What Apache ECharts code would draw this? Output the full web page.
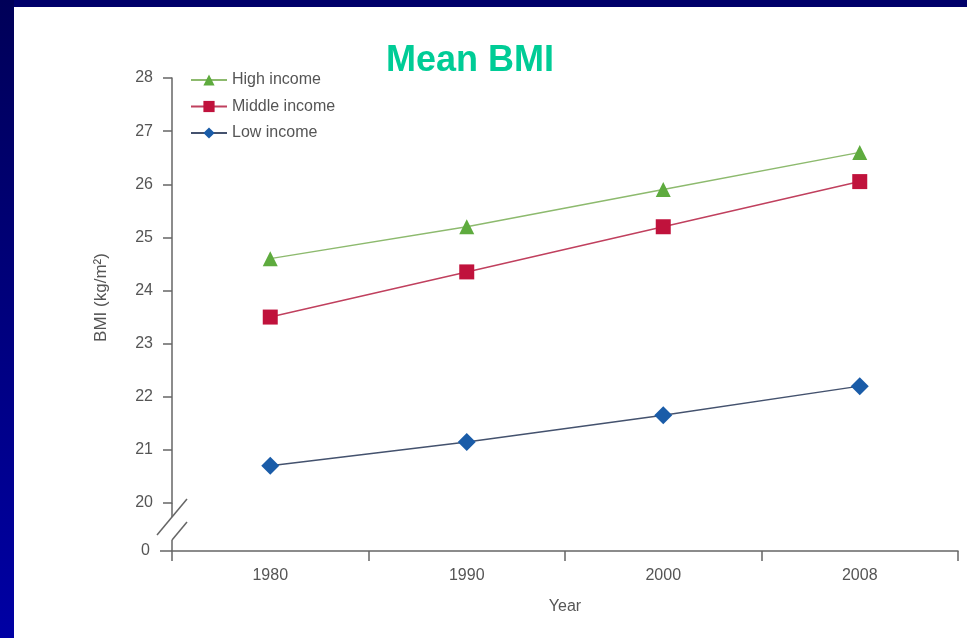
<!DOCTYPE html>
<html>
<head>
<meta charset="utf-8">
<script src="https://cdn.jsdelivr.net/npm/echarts@6/dist/echarts.min.js"></script>
<style>
  html, body { margin: 0; padding: 0; background: #fff; }
  #main { width: 967px; height: 638px; }
</style>
</head>
<body>
<div id="main"></div>
<script>
// Mean BMI by country income group
const years = ['1980', '1990', '2000', '2008'];
const highIncome = [24.6, 25.2, 25.9, 26.6];
const middleIncome = [23.5, 24.35, 25.2, 26.05];
const lowIncome = [20.7, 21.15, 21.65, 22.2];
const seriesNames = ['High income', 'Middle income', 'Low income'];
const yMin = 20, yMax = 28, yStep = 1;

// plot frame (pixels)
const L = 172, R = 958, TOP = 78, BREAK_Y = 503, BASE_Y = 551;
const axisColor = '#666';
const labelColor = '#555';
const font = 'Liberation Sans, Arial, sans-serif';

const chart = echarts.init(document.getElementById('main'));

chart.setOption({
  backgroundColor: '#fff',
  animation: false,
  title: {
    text: 'Mean BMI',
    left: 381, top: 38,
    textStyle: { color: '#00cc96', fontSize: 36, fontWeight: 'bold', fontFamily: font }
  },
  legend: {
    orient: 'vertical',
    left: 185, top: 67,
    itemWidth: 36, itemHeight: 14, itemGap: 10.5,
    data: seriesNames,
    textStyle: { color: labelColor, fontSize: 16, fontFamily: font }
  },
  grid: [
    { left: L, top: TOP, width: R - L, height: BREAK_Y - TOP },
    { left: L, top: BREAK_Y, width: R - L, height: BASE_Y - BREAK_Y }
  ],
  xAxis: [
    { type: 'category', gridIndex: 0, data: years, boundaryGap: true, show: false },
    {
      type: 'category', gridIndex: 1, data: years, boundaryGap: true,
      name: 'Year', nameLocation: 'middle', nameGap: 48,
      nameTextStyle: { color: labelColor, fontSize: 16, fontFamily: font },
      axisLine: { show: true, lineStyle: { color: axisColor, width: 1.5 } },
      axisTick: { show: true, alignWithLabel: false, interval: 0, length: 10,
                  lineStyle: { color: axisColor, width: 1.5 } },
      axisLabel: { color: labelColor, fontSize: 16, fontFamily: font, margin: 17 }
    }
  ],
  yAxis: [
    {
      type: 'value', gridIndex: 0, min: yMin, max: yMax, interval: yStep,
      name: 'BMI (kg/m²)', nameLocation: 'middle', nameGap: 62,
      nameTextStyle: { color: labelColor, fontSize: 17, fontFamily: font, padding: [0, 14, 0, 0] },
      splitLine: { show: false },
      axisLine: { show: true, lineStyle: { color: axisColor, width: 1.5 } },
      axisTick: { show: true, length: 9, lineStyle: { color: axisColor, width: 1.5 } },
      axisLabel: { color: labelColor, fontSize: 16, fontFamily: font, margin: 19 }
    },
    {
      type: 'value', gridIndex: 1, min: 0, max: 1, interval: 1,
      splitLine: { show: false },
      axisLine: { show: false },
      axisTick: {
        show: true, length: 12, lineStyle: { color: axisColor, width: 1.5 },
        customValues: [0]
      },
      axisLabel: {
        color: labelColor, fontSize: 16, fontFamily: font, margin: 22,
        formatter: v => (v === 0 ? '0' : '')
      }
    }
  ],
  series: [
    {
      name: seriesNames[0], type: 'line', data: highIncome,
      xAxisIndex: 0, yAxisIndex: 0,
      symbol: 'triangle', symbolSize: 15,
      lineStyle: { color: '#8dba6e', width: 1.5 },
      itemStyle: { color: '#5eab3e' }
    },
    {
      name: seriesNames[1], type: 'line', data: middleIncome,
      xAxisIndex: 0, yAxisIndex: 0,
      symbol: 'rect', symbolSize: 15,
      lineStyle: { color: '#c0405e', width: 1.5 },
      itemStyle: { color: '#c0123c' }
    },
    {
      name: seriesNames[2], type: 'line', data: lowIncome,
      xAxisIndex: 0, yAxisIndex: 0,
      symbol: 'diamond', symbolSize: 18,
      lineStyle: { color: '#44526e', width: 1.5 },
      itemStyle: { color: '#1a5ca8' }
    }
  ],
  graphic: [
    // page frame
    { type: 'rect', silent: true, z: -10, shape: { x: 0, y: 0, width: 967, height: 7 },
      style: { fill: '#00006a' } },
    { type: 'rect', silent: true, z: -10, shape: { x: 0, y: 0, width: 14, height: 638 },
      style: { fill: new echarts.graphic.LinearGradient(0, 0, 0, 1, [
        { offset: 0, color: '#000058' }, { offset: 1, color: '#0000a4' }
      ]) } },
    // axis break on the y axis
    { type: 'line', silent: true, shape: { x1: L, y1: BREAK_Y, x2: L, y2: 517 },
      style: { stroke: axisColor, lineWidth: 1.5 } },
    { type: 'line', silent: true, shape: { x1: L - 15, y1: 535, x2: L + 15, y2: 499 },
      style: { stroke: axisColor, lineWidth: 1.5 } },
    { type: 'line', silent: true, shape: { x1: L, y1: 540, x2: L + 15, y2: 522 },
      style: { stroke: axisColor, lineWidth: 1.5 } },
    { type: 'line', silent: true, shape: { x1: L, y1: 540, x2: L, y2: BASE_Y },
      style: { stroke: axisColor, lineWidth: 1.5 } }
  ]
});
</script>
</body>
</html>
